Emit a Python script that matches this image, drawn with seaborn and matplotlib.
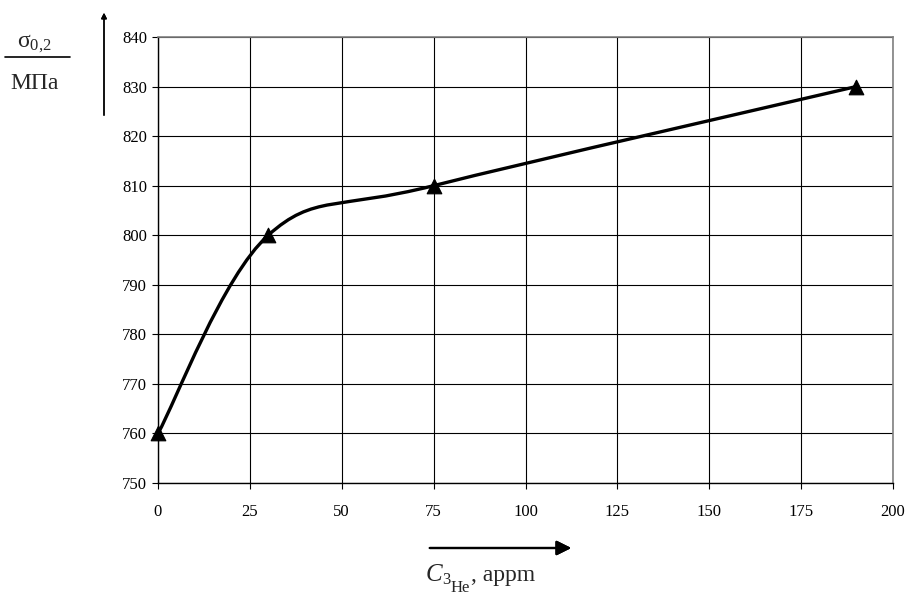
import matplotlib
matplotlib.use("Agg")
import matplotlib.pyplot as plt
from matplotlib.path import Path
from matplotlib.patches import PathPatch
from matplotlib.lines import Line2D
import seaborn as sns
import pandas as pd

# helium concentration (appm) and yield strength (MPa)
conc = [0, 30, 75, 190]
sigma = [760, 800, 810, 830]
x_ticks = [0, 25, 50, 75, 100, 125, 150, 175, 200]
y_ticks = [750, 760, 770, 780, 790, 800, 810, 820, 830, 840]

sns.set_theme(style="ticks")
plt.rcParams['font.family'] = ['Liberation Serif', 'DejaVu Serif']
plt.rcParams['mathtext.fontset'] = 'custom'
plt.rcParams['mathtext.rm'] = 'Liberation Serif'
plt.rcParams['mathtext.it'] = 'Liberation Serif:italic'

df = pd.DataFrame({'conc': conc, 'sigma': sigma})

W, H = 908, 596
fig = plt.figure(figsize=(W / 100, H / 100), dpi=100)
ax = fig.add_axes([158 / W, 1 - 483 / H, (893 - 158) / W, (483 - 37) / H])

ax.set_xlim(0, 200)
ax.set_ylim(750, 840)
ax.set_xticks(x_ticks)
ax.set_yticks(y_ticks)
ax.grid(True, color='black', linewidth=0.8)
ax.set_axisbelow(True)
for side in ['top', 'right']:
    ax.spines[side].set_color('#808080')
    ax.spines[side].set_linewidth(1.2)
for side in ['left', 'bottom']:
    ax.spines[side].set_color('black')
    ax.spines[side].set_linewidth(1.0)
ax.tick_params(axis='both', direction='out', length=4, width=0.8, colors='black', labelsize=12)
ax.tick_params(axis='x', pad=11)
ax.tick_params(axis='y', pad=4)

# smoothed line (Excel-like bezier through the points)
pts = list(zip(conc, sigma))
verts = [pts[0]]
codes = [Path.MOVETO]
n = len(pts)
for i in range(n - 1):
    p0 = pts[i - 1] if i > 0 else pts[i]
    p1 = pts[i]
    p2 = pts[i + 1]
    p3 = pts[i + 2] if i + 2 < n else pts[i + 1]
    c1 = (p1[0] + (p2[0] - p0[0]) / 6, p1[1] + (p2[1] - p0[1]) / 6)
    c2 = (p2[0] - (p3[0] - p1[0]) / 6, p2[1] - (p3[1] - p1[1]) / 6)
    verts += [c1, c2, p2]
    codes += [Path.CURVE4] * 3
ax.add_patch(PathPatch(Path(verts, codes), facecolor='none', edgecolor='black', linewidth=2.4, zorder=3))

sns.scatterplot(data=df, x='conc', y='sigma', marker='^', s=110, color='black',
                edgecolor='black', ax=ax, zorder=4, clip_on=False)
ax.set_xlabel('')
ax.set_ylabel('')


def ftext(x, y, s, **kw):
    # place text by pixel position measured from the top-left corner
    return fig.text(x / W, 1 - y / H, s, **kw)


# y label as a fraction with arrow
ftext(17, 47, r'σ$_{0{,}2}$', ha='left', va='baseline', fontsize=17)
fig.add_artist(Line2D([5 / W, 70 / W], [1 - 57 / H, 1 - 57 / H], color='black', linewidth=1.2))
ftext(35, 89, 'МПа', ha='center', va='baseline', fontsize=17)
fig.add_artist(plt.annotate('', xy=(104, H - 10), xytext=(104, H - 118), xycoords='figure pixels',
                            textcoords='figure pixels',
                            arrowprops=dict(arrowstyle='-|>', color='black', lw=1.0, mutation_scale=8)))

# x label with arrow
fig.add_artist(plt.annotate('', xy=(574, H - 548), xytext=(427, H - 548), xycoords='figure pixels',
                            textcoords='figure pixels',
                            arrowprops=dict(arrowstyle='-|>', color='black', lw=1.6, mutation_scale=22)))
ftext(426, 581, 'C', style='italic', ha='left', va='baseline', fontsize=18)
ftext(442, 584, '3', ha='left', va='baseline', fontsize=12)
ftext(451, 592, 'He', ha='left', va='baseline', fontsize=12)
ftext(471, 581, ', appm', ha='left', va='baseline', fontsize=17)

fig.savefig('out.png', dpi=100)
